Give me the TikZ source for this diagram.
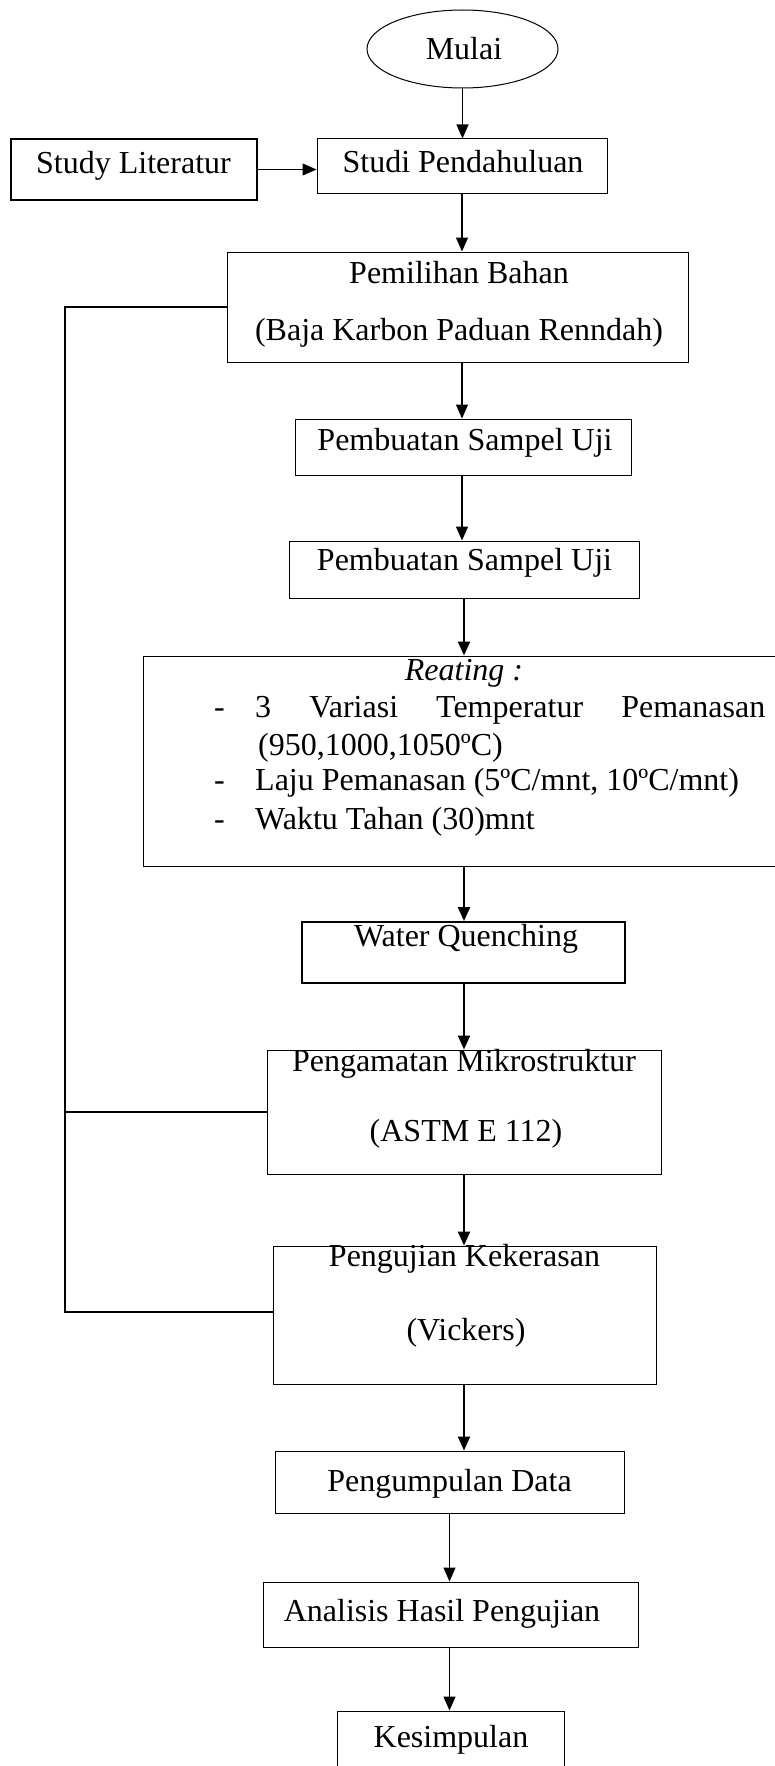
\documentclass[tikz,border=0pt]{standalone}
\usepackage{fontspec}
\setmainfont{Liberation Serif}
\usetikzlibrary{arrows.meta,shapes.geometric}
\begin{document}
\begin{tikzpicture}[x=1pt,y=-1pt,
  box/.style={draw, rectangle, line width=1pt, inner sep=0pt},
  thickbox/.style={box, line width=2pt},
  oval/.style={draw, ellipse, line width=1pt, inner sep=0pt},
  txt/.style={inner sep=0pt, font=\fontsize{32}{37}\selectfont},
  arr/.style={-{Triangle[length=14pt,width=12pt]}, line width=1.3pt},
  thickarr/.style={arr, line width=2.3pt},
  fb/.style={line width=1.5pt}]
\useasboundingbox (0,0) rectangle (775,1766);
\clip (0,0) rectangle (775,1766);

% boxes
\node[oval, minimum width=191pt, minimum height=78pt] (mulai) at (462.5,49) {};
\node[thickbox, minimum width=246pt, minimum height=61pt] (studylit) at (134,169.5) {};
\node[box, minimum width=290pt, minimum height=54pt] (studi) at (462,166) {};
\node[box, minimum width=461pt, minimum height=110pt] (pemilihan) at (457.5,307) {};
\node[box, minimum width=336pt, minimum height=56pt] (pemb1) at (463,447) {};
\node[box, minimum width=350pt, minimum height=57pt] (pemb2) at (464,569.5) {};
\node[box, minimum width=642pt, minimum height=210pt] (reating) at (464,761) {};
\node[thickbox, minimum width=323pt, minimum height=61pt] (wq) at (463.5,952.5) {};
\node[box, minimum width=394pt, minimum height=124pt] (pengamatan) at (464,1112) {};
\node[box, minimum width=383pt, minimum height=138pt] (pengujian) at (464.5,1315) {};
\node[box, minimum width=349pt, minimum height=62pt] (pengumpulan) at (449.5,1482) {};
\node[box, minimum width=375pt, minimum height=65pt] (analisis) at (450.5,1614.5) {};
\node[box, minimum width=227pt, minimum height=62pt] (kesimpulan) at (450.5,1742) {};

% texts
\node[txt, anchor=base] (tmulai) at (464,60) {Mulai};
\node[txt, anchor=base] (tstudylit) at (133.5,173) {Study Literatur};
\node[txt, anchor=base] (tstudi) at (463,172) {Studi Pendahuluan};
\node[txt, anchor=base] (tpemilihan1) at (459,283) {Pemilihan Bahan};
\node[txt, anchor=base] (tpemilihan2) at (459,340) {(Baja Karbon Paduan Renndah)};
\node[txt, anchor=base] (tpemb1) at (465,450) {Pembuatan Sampel Uji};
\node[txt, anchor=base] (tpemb2) at (464.5,570) {Pembuatan Sampel Uji};
\node[txt, anchor=base] (treating) at (464,680) {\textit{Reating :}};
\node[txt, anchor=base west] (dash1) at (214,717) {-};
\node[txt, anchor=base west] (line1) at (255,717) {\makebox[510pt][s]{3 Variasi Temperatur Pemanasan}};
\node[txt, anchor=base west] (line2) at (258,755) {(950,1000,1050ºC)};
\node[txt, anchor=base west] (dash3) at (214,790) {-};
\node[txt, anchor=base west] (line3) at (255,790) {Laju Pemanasan (5ºC/mnt, 10ºC/mnt)};
\node[txt, anchor=base west] (dash4) at (214,829) {-};
\node[txt, anchor=base west] (line4) at (255,829) {Waktu Tahan (30)mnt};
\node[txt, anchor=base] (twq) at (466,946) {Water Quenching};
\node[txt, anchor=base] (tpengamatan1) at (464,1071) {Pengamatan Mikrostruktur};
\node[txt, anchor=base] (tpengamatan2) at (466,1141) {(ASTM E 112)};
\node[txt, anchor=base] (tpengujian1) at (464.5,1266) {Pengujian Kekerasan};
\node[txt, anchor=base] (tpengujian2) at (466,1340) {(Vickers)};
\node[txt, anchor=base] (tpengumpulan) at (449.5,1491) {Pengumpulan Data};
\node[txt, anchor=base] (tanalisis) at (442,1621) {Analisis Hasil Pengujian};
\node[txt, anchor=base] (tkesimpulan) at (451,1747) {Kesimpulan};

% connectors
\draw[arr] (mulai.south) -- (mulai.south |- studi.north);
\draw[arr] (studylit.east) -- (studylit.east -| studi.west);
\draw[arr] (studi.south) -- (studi.south |- pemilihan.north);
\draw[arr] (pemilihan.south -| studi.south) -- (pemb1.north -| studi.south);
\draw[arr] (pemb1.south -| studi.south) -- (pemb2.north -| studi.south);
\draw[thickarr] (pemb2.south) -- (pemb2.south |- reating.north);
\draw[thickarr] (reating.south) -- (reating.south |- wq.north);
\draw[thickarr] (wq.south -| reating.south) -- (pengamatan.north -| reating.south);
\draw[thickarr] (pengamatan.south) -- (pengamatan.south |- pengujian.north);
\draw[thickarr] (pengujian.south -| pengamatan.south) -- (pengumpulan.north -| pengamatan.south);
\draw[arr] (pengumpulan.south) -- (pengumpulan.south |- analisis.north);
\draw[arr] (analisis.south -| pengumpulan.south) -- (kesimpulan.north -| pengumpulan.south);

% feedback lines
\coordinate (fbx) at (65,0);
\draw[fb] (pemilihan.west) -- (pemilihan.west -| fbx) -- ([yshift=3pt]pengujian.west -| fbx) -- ([yshift=3pt]pengujian.west);
\draw[fb] (pengamatan.west -| fbx) -- (pengamatan.west);
\end{tikzpicture}
\end{document}
